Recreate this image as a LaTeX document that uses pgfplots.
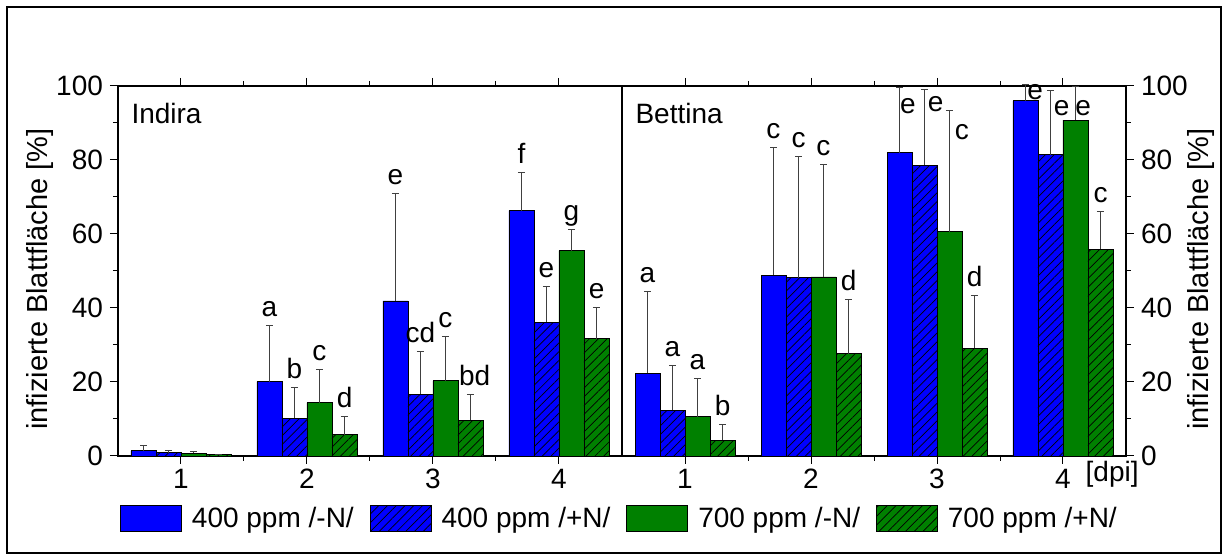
\documentclass[border=0pt]{standalone}
\usepackage{fontspec}
\setmainfont{Liberation Sans}
\usepackage{pgfplots}
\usepackage{pgfplotstable}
\pgfplotsset{compat=1.18}
\usetikzlibrary{patterns.meta}
\definecolor{cblue}{RGB}{0,0,255}
\definecolor{cgreen}{RGB}{0,128,0}

% Indira: x value err
\pgfplotstableread{
x  a    ae    b    be    c    ce    d    de
1  1.4  1.3   0.9  0.7   0.7  0.6   0.3  0.2
2  20.1 15.1  10.2 8.3   14.4 9.1   5.7  4.9
3  41.9 29.1  16.7 11.5  20.3 11.9  9.7  6.8
4  66.3 10.3  36.2 9.6   55.5 5.6   31.7 8.4
}\indira
% Bettina
\pgfplotstableread{
x  a    ae    b    be    c    ce    d    de
1  22.3 22.1  12.3 12.2  10.6 10.4  4.3  4.3
2  48.9 34.5  48.2 32.7  48.4 30.3  27.6 14.7
3  82.0 17.6  78.6 20.4  60.6 32.7  29.1 14.2
4  96.0 4.3   81.4 17.3  90.8 9.0   55.9 10.3
}\bettina

\newcommand{\fnt}{\fontsize{14}{16}\selectfont}
\newcommand{\lab}[3]{\node[anchor=base, yshift=4.5pt, inner sep=0pt, font=\fnt] at (axis cs:#1,#2) {#3};}
\newcommand{\labc}[3]{\node[anchor=center, inner sep=0pt, font=\fnt] at (axis cs:#1,#2) {#3};}

\pgfplotsset{
  panel/.style={
    scale only axis, width=252pt, height=185pt,
    xmin=0.5, xmax=4.5, ymin=0, ymax=100,
    xtick={1,2,3,4}, minor xtick={1.5,2.5,3.5},
    ytick={0,20,...,100}, minor ytick={10,30,50,70,90},
    tick align=outside,
    major tick length=4pt, minor tick length=2.5pt,
    every tick/.style={black, line width=0.5pt},
    axis line style={line width=0.6pt},
    /pgf/number format/assume math mode=true,
    tick label style={font=\fnt},
    xticklabel style={yshift=1pt},
    label style={font=\fontsize{14.5}{16}\selectfont},
    clip=false,
  },
  barbase/.style={
    ybar, bar width=12.5pt, draw=black, line width=0.4pt,
    legend image code/.code={\draw[##1] (0pt,-6.5pt) rectangle (30.5pt,6.5pt);},
  },
  errb/.style={
    draw=none, mark=none, forget plot,
    error bars/y dir=plus, error bars/y explicit,
    error bars/error bar style={draw=black!75, line width=0.5pt},
    error bars/error mark options={draw=black!75, rotate=90, mark size=1.75pt, line width=0.5pt},
  },
  hatch/.style={postaction={pattern={Lines[angle=45,distance=3.1pt,line width=0.35pt]}, pattern color=black}},
}

\begin{document}
\begin{tikzpicture}
\path[use as bounding box] (0,0) rectangle (614pt,280pt);
\draw[line width=1pt] (3.5pt,3.5pt) rectangle (610.5pt,276.5pt);

% ---------- Indira ----------
\begin{axis}[panel, at={(59pt,52pt)}, anchor=south west,
  ytick pos=left,
  ylabel={infizierte Blattfläche [\%]},
  ylabel style={at={(axis description cs:-0.155,0.478)}, anchor=center},
  legend columns=4,
  legend style={at={(0.995,-0.17)}, anchor=center, draw=none, font=\fnt,
    nodes={inner sep=1pt},
    /tikz/every odd column/.append style={column sep=4pt},
    /tikz/every even column/.append style={column sep=7pt}},
  legend cell align=left]
\addplot[barbase, bar shift=-18.75pt, fill=cblue] table[x=x, y=a]{\indira};
\addplot[barbase, bar shift=-6.25pt, fill=cblue, hatch] table[x=x, y=b]{\indira};
\addplot[barbase, bar shift=6.25pt, fill=cgreen] table[x=x, y=c]{\indira};
\addplot[barbase, bar shift=18.75pt, fill=cgreen, hatch] table[x=x, y=d]{\indira};
\legend{400 ppm /-N/, 400 ppm /+N/, 700 ppm /-N/, 700 ppm /+N/}
\addplot[errb] table[x expr=\thisrow{x}-0.2976, y=a, y error=ae]{\indira};
\addplot[errb] table[x expr=\thisrow{x}-0.0992, y=b, y error=be]{\indira};
\addplot[errb] table[x expr=\thisrow{x}+0.0992, y=c, y error=ce]{\indira};
\addplot[errb] table[x expr=\thisrow{x}+0.2976, y=d, y error=de]{\indira};
\node[anchor=north west, inner sep=0pt, font=\fnt] at (rel axis cs:0.026,0.955) {Indira};
\lab{1.702}{35.2}{a}\lab{1.901}{18.5}{b}\lab{2.099}{23.5}{c}\lab{2.298}{10.6}{d}
\lab{2.702}{71.0}{e}\lab{2.901}{28.2}{cd}\lab{3.099}{32.2}{c}\lab{3.33}{16.5}{bd}
\lab{3.702}{76.6}{f}\lab{3.901}{45.8}{e}\lab{4.099}{61.1}{g}\lab{4.298}{40.1}{e}
\end{axis}

% ---------- Bettina ----------
\begin{axis}[panel, at={(311pt,52pt)}, anchor=south west,
  ytick pos=right, yticklabel pos=right,
  ylabel={infizierte Blattfläche [\%]},
  ylabel style={at={(axis description cs:1.149,0.478)}, anchor=center}]
\addplot[barbase, bar shift=-18.75pt, fill=cblue] table[x=x, y=a]{\bettina};
\addplot[barbase, bar shift=-6.25pt, fill=cblue, hatch] table[x=x, y=b]{\bettina};
\addplot[barbase, bar shift=6.25pt, fill=cgreen] table[x=x, y=c]{\bettina};
\addplot[barbase, bar shift=18.75pt, fill=cgreen, hatch] table[x=x, y=d]{\bettina};
\addplot[errb] table[x expr=\thisrow{x}-0.2976, y=a, y error=ae]{\bettina};
\addplot[errb] table[x expr=\thisrow{x}-0.0992, y=b, y error=be]{\bettina};
\addplot[errb] table[x expr=\thisrow{x}+0.0992, y=c, y error=ce]{\bettina};
\addplot[errb] table[x expr=\thisrow{x}+0.2976, y=d, y error=de]{\bettina};
\node[anchor=north west, inner sep=0pt, font=\fnt] at (rel axis cs:0.026,0.955) {Bettina};
\lab{0.702}{44.4}{a}\lab{0.901}{24.5}{a}\lab{1.099}{21.0}{a}\lab{1.298}{8.6}{b}
\lab{1.702}{83.4}{c}\lab{1.901}{80.9}{c}\lab{2.099}{78.7}{c}\lab{2.298}{42.3}{d}
\labc{2.77}{94.6}{e}\labc{2.99}{95.1}{e}\labc{3.198}{87.6}{c}\lab{3.298}{43.3}{d}
\labc{3.78}{98.4}{e}\labc{3.99}{94.1}{e}\labc{4.16}{94.1}{e}\lab{4.298}{66.2}{c}
\node[anchor=center, inner sep=0pt, font=\fnt] at (axis cs:4.39,-5) {[dpi]};
\end{axis}
\end{tikzpicture}
\end{document}
